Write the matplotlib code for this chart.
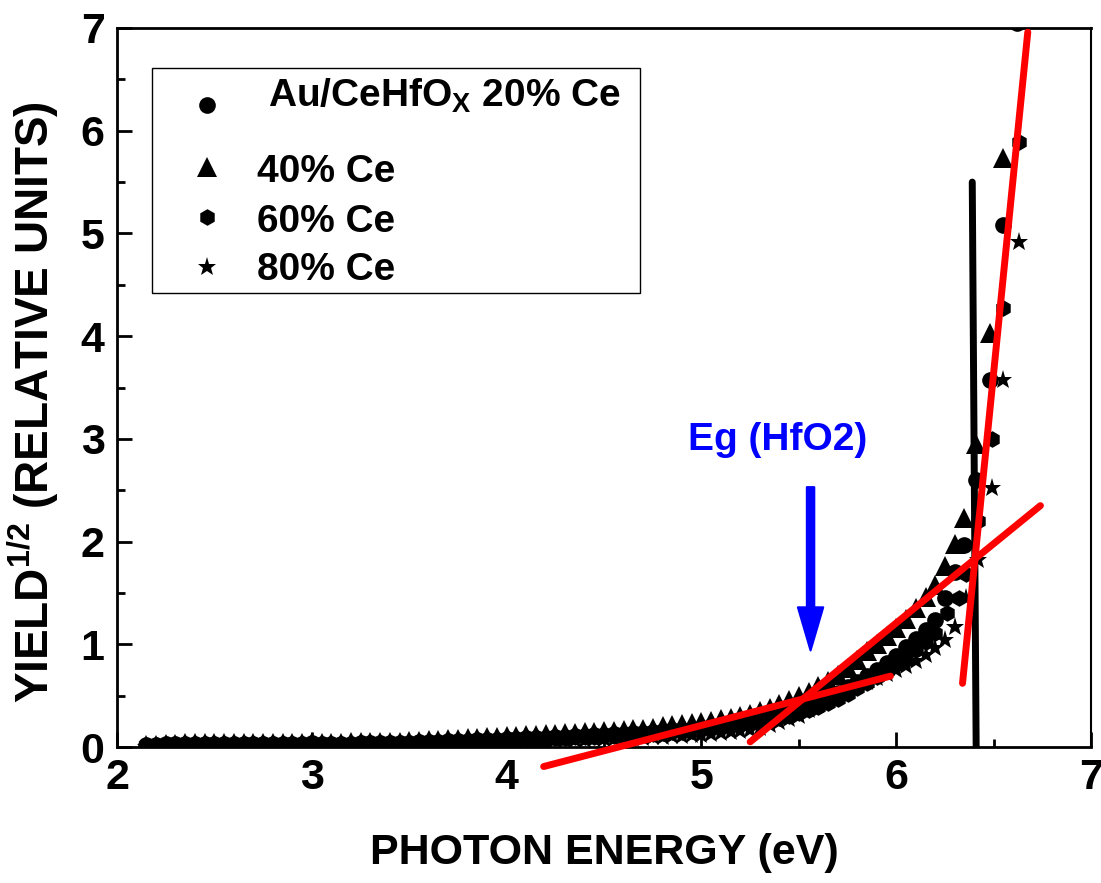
import numpy as np
import matplotlib.pyplot as plt
import matplotlib.patches as mpatches
from matplotlib.ticker import MultipleLocator

plt.rcParams.update({
    "font.family": "Liberation Sans",
    "font.weight": "bold",
    "mathtext.fontset": "custom",
    "mathtext.rm": "Liberation Sans:bold",
    "mathtext.it": "Liberation Sans:bold",
    "mathtext.bf": "Liberation Sans:bold",
})

# shared photon energy grid (eV) for the dense part of the scans
energy = [
    2.15, 2.20, 2.25, 2.30, 2.35, 2.40, 2.45, 2.50, 2.55, 2.60,
    2.65, 2.70, 2.75, 2.80, 2.85, 2.90, 2.95, 3.00, 3.05, 3.10,
    3.15, 3.20, 3.25, 3.30, 3.35, 3.40, 3.45, 3.50, 3.55, 3.60,
    3.65, 3.70, 3.75, 3.80, 3.85, 3.90, 3.95, 4.00, 4.05, 4.10,
    4.15, 4.20, 4.25, 4.30, 4.35, 4.40, 4.45, 4.50, 4.55, 4.60,
    4.65, 4.70, 4.75, 4.80, 4.85, 4.90, 4.95, 5.00, 5.05, 5.10,
    5.15, 5.20, 5.25, 5.30, 5.35, 5.40, 5.45, 5.50, 5.55, 5.60,
    5.65, 5.70, 5.75, 5.80, 5.85, 5.90, 5.95, 6.00, 6.05, 6.10,
    6.15, 6.20,
]

# 20% Ce (circles)
ce20_y = [
    0.02, 0.02, 0.025, 0.025, 0.03, 0.03, 0.03, 0.03, 0.03, 0.03,
    0.03, 0.03, 0.03, 0.03, 0.03, 0.03, 0.03, 0.035, 0.03, 0.03,
    0.03, 0.03, 0.035, 0.035, 0.035, 0.04, 0.04, 0.04, 0.045, 0.05,
    0.05, 0.055, 0.06, 0.06, 0.065, 0.07, 0.07, 0.075, 0.08, 0.085,
    0.09, 0.09, 0.095, 0.10, 0.105, 0.11, 0.115, 0.12, 0.125, 0.13,
    0.135, 0.14, 0.15, 0.155, 0.165, 0.17, 0.18, 0.19, 0.20, 0.21,
    0.22, 0.235, 0.25, 0.27, 0.29, 0.31, 0.34, 0.37, 0.40, 0.44,
    0.48, 0.53, 0.58, 0.63, 0.69, 0.75, 0.82, 0.89, 0.97, 1.05,
    1.14, 1.24,
]
ce20_tail_x = [6.25, 6.30, 6.35, 6.41, 6.48, 6.55, 6.62]
ce20_tail_y = [1.45, 1.70, 1.97, 2.60, 3.57, 5.08, 7.05]

# 40% Ce (triangles)
ce40_y = [
    0.02, 0.02, 0.03, 0.03, 0.035, 0.035, 0.035, 0.035, 0.04, 0.04,
    0.04, 0.04, 0.04, 0.04, 0.04, 0.04, 0.04, 0.045, 0.04, 0.04,
    0.04, 0.045, 0.045, 0.045, 0.05, 0.05, 0.05, 0.055, 0.06, 0.065,
    0.07, 0.075, 0.08, 0.085, 0.09, 0.095, 0.10, 0.105, 0.11, 0.115,
    0.12, 0.125, 0.13, 0.135, 0.14, 0.145, 0.15, 0.155, 0.16, 0.17,
    0.175, 0.18, 0.19, 0.20, 0.21, 0.22, 0.23, 0.245, 0.255, 0.27,
    0.28, 0.30, 0.32, 0.35, 0.38, 0.42, 0.46, 0.50, 0.54, 0.59,
    0.64, 0.70, 0.77, 0.85, 0.93, 1.00, 1.08, 1.16, 1.25, 1.35,
    1.46, 1.58,
]
ce40_tail_x = [6.25, 6.30, 6.35, 6.41, 6.48, 6.55]
ce40_tail_y = [1.76, 1.98, 2.23, 2.95, 4.03, 5.73]

# 60% Ce (hexagons)
ce60_y = [
    0.02, 0.02, 0.025, 0.025, 0.03, 0.03, 0.03, 0.03, 0.03, 0.03,
    0.03, 0.03, 0.03, 0.03, 0.03, 0.03, 0.03, 0.03, 0.03, 0.03,
    0.03, 0.03, 0.03, 0.035, 0.035, 0.035, 0.04, 0.04, 0.04, 0.045,
    0.045, 0.05, 0.05, 0.055, 0.06, 0.06, 0.065, 0.07, 0.07, 0.075,
    0.08, 0.08, 0.085, 0.09, 0.095, 0.10, 0.10, 0.105, 0.11, 0.115,
    0.12, 0.125, 0.13, 0.14, 0.145, 0.15, 0.16, 0.17, 0.18, 0.19,
    0.20, 0.21, 0.22, 0.24, 0.26, 0.28, 0.30, 0.33, 0.36, 0.39,
    0.43, 0.47, 0.52, 0.57, 0.62, 0.68, 0.74, 0.80, 0.87, 0.94,
    1.02, 1.11,
]
ce60_tail_x = [6.26, 6.32, 6.36, 6.42, 6.49, 6.55, 6.63]
ce60_tail_y = [1.30, 1.45, 1.68, 2.20, 3.00, 4.27, 5.89]

# 80% Ce (stars)
ce80_y = [
    0.0, 0.01, 0.015, 0.02, 0.02, 0.02, 0.02, 0.02, 0.02, 0.02,
    0.02, 0.02, 0.02, 0.02, 0.02, 0.02, 0.02, 0.02, 0.02, 0.02,
    0.02, 0.02, 0.025, 0.025, 0.025, 0.03, 0.03, 0.03, 0.035, 0.035,
    0.04, 0.04, 0.04, 0.045, 0.045, 0.05, 0.05, 0.05, 0.055, 0.055,
    0.06, 0.06, 0.065, 0.065, 0.07, 0.07, 0.075, 0.075, 0.08, 0.085,
    0.09, 0.09, 0.095, 0.10, 0.105, 0.11, 0.115, 0.12, 0.13, 0.14,
    0.15, 0.16, 0.17, 0.19, 0.21, 0.24, 0.27, 0.30, 0.36, 0.41,
    0.46, 0.50, 0.55, 0.59, 0.63, 0.67, 0.71, 0.75, 0.79, 0.84,
    0.90, 0.96,
]
ce80_tail_x = [6.25, 6.30, 6.36, 6.42, 6.49, 6.55, 6.63]
ce80_tail_y = [1.04, 1.17, 1.45, 1.82, 2.52, 3.57, 4.92]

series_labels = ["Au/CeHfO$_{X}$ 20% Ce", "40% Ce", "60% Ce", "80% Ce"]
series_markers = ["o", "^", "h", "*"]
series_sizes = [12, 14, 12, 14]

# threshold fit lines (x pairs, y pairs)
fit_low_x, fit_low_y = [4.19, 5.97], [-0.19, 0.69]
fit_mid_x, fit_mid_y = [5.25, 6.74], [0.05, 2.35]
fit_high_x, fit_high_y = [6.34, 6.675], [0.62, 6.96]
vline_x, vline_y = [6.39, 6.41], [5.5, 0.0]

# Eg(HfO2) marker
eg_x = 5.56
eg_arrow_top, eg_arrow_tip = 2.53, 0.94

fig = plt.figure(figsize=(11.01, 8.83), dpi=100)
ax = fig.add_axes([0.1063, 0.154, 0.8847, 0.8143])

series = [
    (ce20_y, ce20_tail_x, ce20_tail_y),
    (ce40_y, ce40_tail_x, ce40_tail_y),
    (ce60_y, ce60_tail_x, ce60_tail_y),
    (ce80_y, ce80_tail_x, ce80_tail_y),
]
for (ys, tx, ty), mk, ms in zip(series, series_markers, series_sizes):
    x = list(energy) + tx
    y = list(ys) + ty
    ax.plot(x, y, linestyle="none", marker=mk, markersize=ms,
            color="black", markeredgewidth=0, zorder=2)

ax.plot(vline_x, vline_y, color="black", lw=5, solid_capstyle="round", zorder=3)
for fx, fy in [(fit_low_x, fit_low_y), (fit_mid_x, fit_mid_y), (fit_high_x, fit_high_y)]:
    ax.plot(fx, fy, color="red", lw=5, solid_capstyle="round", clip_on=False, zorder=4)

arrow = mpatches.FancyArrow(eg_x, eg_arrow_top, 0, eg_arrow_tip - eg_arrow_top,
                            width=0.038, head_width=0.13, head_length=0.42,
                            length_includes_head=True, color="blue", lw=1.5,
                            joinstyle="round", zorder=5)
ax.add_patch(arrow)
ax.text(5.39, 2.99, "Eg (HfO2)", color="blue", fontsize=28, fontweight="bold",
        ha="center", va="center")

# legend box drawn by hand so the first (subscripted) row gets its extra room
frame = mpatches.Rectangle((0.036, 0.631), 0.501, 0.313, transform=ax.transAxes,
                           facecolor="white", edgecolor="black", lw=1.0, zorder=6)
ax.add_patch(frame)
key_x = 0.0924
key_y = [0.8929, 0.8067, 0.7371, 0.6676]
text_x = [0.155, 0.1438, 0.1438, 0.1438]
text_y = [0.8901, 0.7858, 0.7163, 0.6495]
for mk, ms, lab, ky, tx, ty in zip(series_markers, series_sizes, series_labels,
                                   key_y, text_x, text_y):
    ax.plot([key_x], [ky], transform=ax.transAxes, linestyle="none", marker=mk,
            markersize=ms, color="black", markeredgewidth=0, clip_on=False, zorder=7)
    ax.text(tx, ty, lab, transform=ax.transAxes, fontsize=28, fontweight="bold",
            ha="left", va="baseline", zorder=7)

ax.set_xlim(2, 7)
ax.set_ylim(0, 7)
ax.xaxis.set_major_locator(MultipleLocator(1))
ax.xaxis.set_minor_locator(MultipleLocator(0.5))
ax.yaxis.set_major_locator(MultipleLocator(1))
ax.yaxis.set_minor_locator(MultipleLocator(0.5))
ax.tick_params(which="both", direction="in", top=False, right=False, width=2)
ax.tick_params(which="major", length=11, labelsize=31, pad=8)
ax.tick_params(axis="y", which="major", pad=9)
ax.tick_params(which="minor", length=6)
for side in ["left", "bottom", "top"]:
    ax.spines[side].set_linewidth(2)
ax.spines["right"].set_linewidth(1.5)

ax.set_xlabel("PHOTON ENERGY (eV)", fontsize=31, fontweight="bold", labelpad=25)
ax.set_ylabel("YIELD$^{1/2}$ (RELATIVE UNITS)", fontsize=33, fontweight="bold")
ax.yaxis.set_label_coords(-0.058, 0.48)

fig.savefig("out.png", dpi=100)
